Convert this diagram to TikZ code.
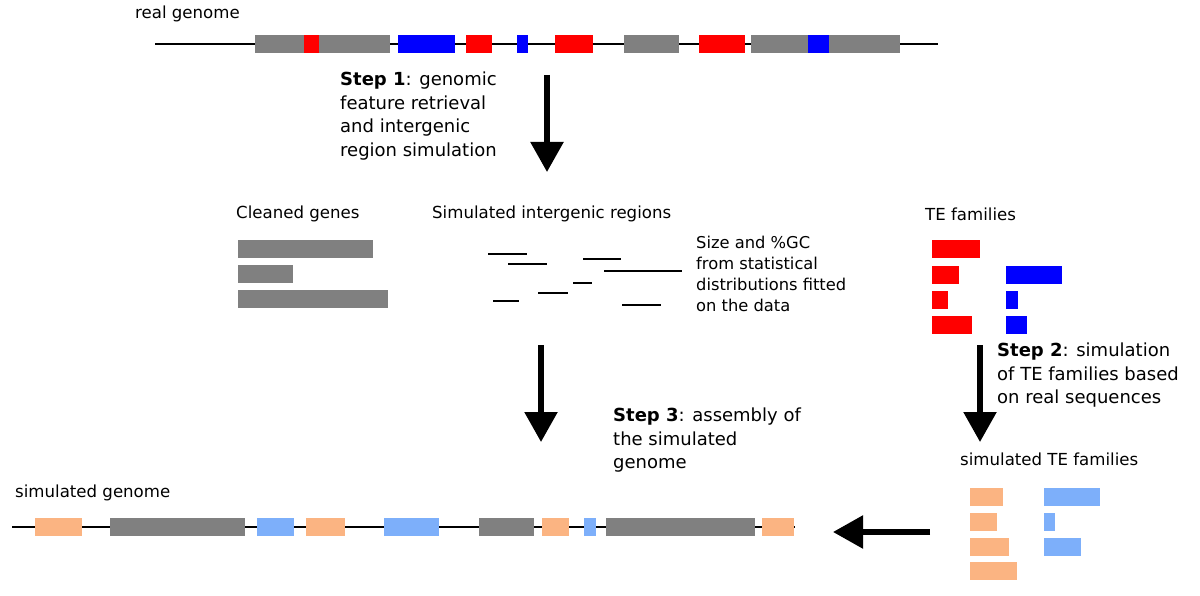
\documentclass[tikz,border=0pt]{standalone}
\usepackage{fontspec}
\setmainfont{DejaVu Sans}
\usetikzlibrary{arrows.meta}
\definecolor{genegray}{RGB}{128,128,128}
\definecolor{tered}{RGB}{255,0,0}
\definecolor{teblue}{RGB}{0,0,255}
\definecolor{simorange}{RGB}{251,180,130}
\definecolor{simblue}{RGB}{125,175,250}
\tikzstyle{name text} = [anchor=west, inner sep=0pt, font=\fontsize{16.6}{19}\selectfont]
\tikzstyle{step text} = [anchor=north west, inner sep=0pt, align=left, font=\fontsize{18}{23.5}\selectfont]
\tikzstyle{big arrow} = [draw, line width=5.5pt, -{Triangle[length=30pt,width=32pt]}]
\def\realgenome{255/390/genegray, 304/319/tered, 398/455/teblue, 466/492/tered, 517/528/teblue, 555/593/tered, 624/679/genegray, 699/745/tered, 751/900/genegray, 808/829/teblue}
\def\simgenome{35/82/simorange, 110/245/genegray, 257/294/simblue, 306/345/simorange, 384/439/simblue, 479/534/genegray, 542/569/simorange, 584/596/simblue, 606/755/genegray, 762/794/simorange}
\begin{document}
\begin{tikzpicture}[x=1pt,y=-1pt]
  \useasboundingbox (0,0) rectangle (1200,596);

  % real genome
  \node[name text] (realname) at (135,14) {real genome};
  \coordinate (r0) at (155,44);
  \coordinate (r1) at (938,44);
  \draw[line width=1.6pt] (r0) -- (r1);
  \foreach \a/\b/\c in \realgenome
    \fill[\c] (\a,35) rectangle (\b,53);

  % step 1
  \coordinate (a1s) at (547,75);
  \coordinate (a1e) at (547,172);
  \path[big arrow] (a1s) -- (a1e);
  \node[step text] (step1) at (340,72) {\textbf{Step 1}: genomic\\feature retrieval\\and intergenic\\region simulation};

  % cleaned genes
  \node[name text] (genes) at (236,214) {Cleaned genes};
  \foreach \b/\y in {373/240, 293/265, 388/290}
    \fill[genegray] (238,\y) rectangle (\b,\y+18);

  % intergenic regions
  \node[name text] (inter) at (432,214) {Simulated intergenic regions};
  \foreach \a/\b/\y in {488/527/254, 508/547/264, 583/621/259, 604/682/271, 573/592/283, 538/568/293, 493/519/301, 622/661/305}
    \draw[line width=1.4pt] (\a,\y) -- (\b,\y);
  \node[name text, anchor=north west, align=left, font=\fontsize{16.3}{21}\selectfont] (sizegc) at (696,236) {Size and \%GC\\from statistical\\distributions fitted\\on the data};

  % TE families
  \node[name text] (tefam) at (925,214) {TE families};
  \foreach \b/\y in {980/240, 959/266, 948/291, 972/316}
    \fill[tered] (932,\y) rectangle (\b,\y+18);
  \foreach \b/\y in {1062/266, 1018/291, 1027/316}
    \fill[teblue] (1006,\y) rectangle (\b,\y+18);

  % step 2 and 3
  \coordinate (a2s) at (541,345);
  \coordinate (a2e) at (541,442);
  \path[big arrow] (a2s) -- (a2e);
  \coordinate (a3s) at (980,345);
  \coordinate (a3e) at (980,442);
  \path[big arrow] (a3s) -- (a3e);
  \node[step text] (step2) at (997,343) {\textbf{Step 2}: simulation\\of TE families based\\on real sequences};
  \node[step text] (step3) at (613,408) {\textbf{Step 3}: assembly of\\the simulated\\genome};

  % simulated TE families
  \node[name text] (simte) at (960,459) {simulated TE families};
  \foreach \b/\y in {1003/488, 997/513, 1009/538, 1017/562}
    \fill[simorange] (970,\y) rectangle (\b,\y+18);
  \foreach \b/\y in {1100/488, 1055/513, 1081/538}
    \fill[simblue] (1044,\y) rectangle (\b,\y+18);
  \coordinate (a4s) at (930,532);
  \coordinate (a4e) at (833,532);
  \path[big arrow] (a4s) -- (a4e);

  % simulated genome
  \node[name text] (simname) at (15,493) {simulated genome};
  \coordinate (s0) at (12,527);
  \coordinate (s1) at (795,527);
  \draw[line width=1.6pt] (s0) -- (s1);
  \foreach \a/\b/\c in \simgenome
    \fill[\c] (\a,518) rectangle (\b,536);
\end{tikzpicture}
\end{document}
